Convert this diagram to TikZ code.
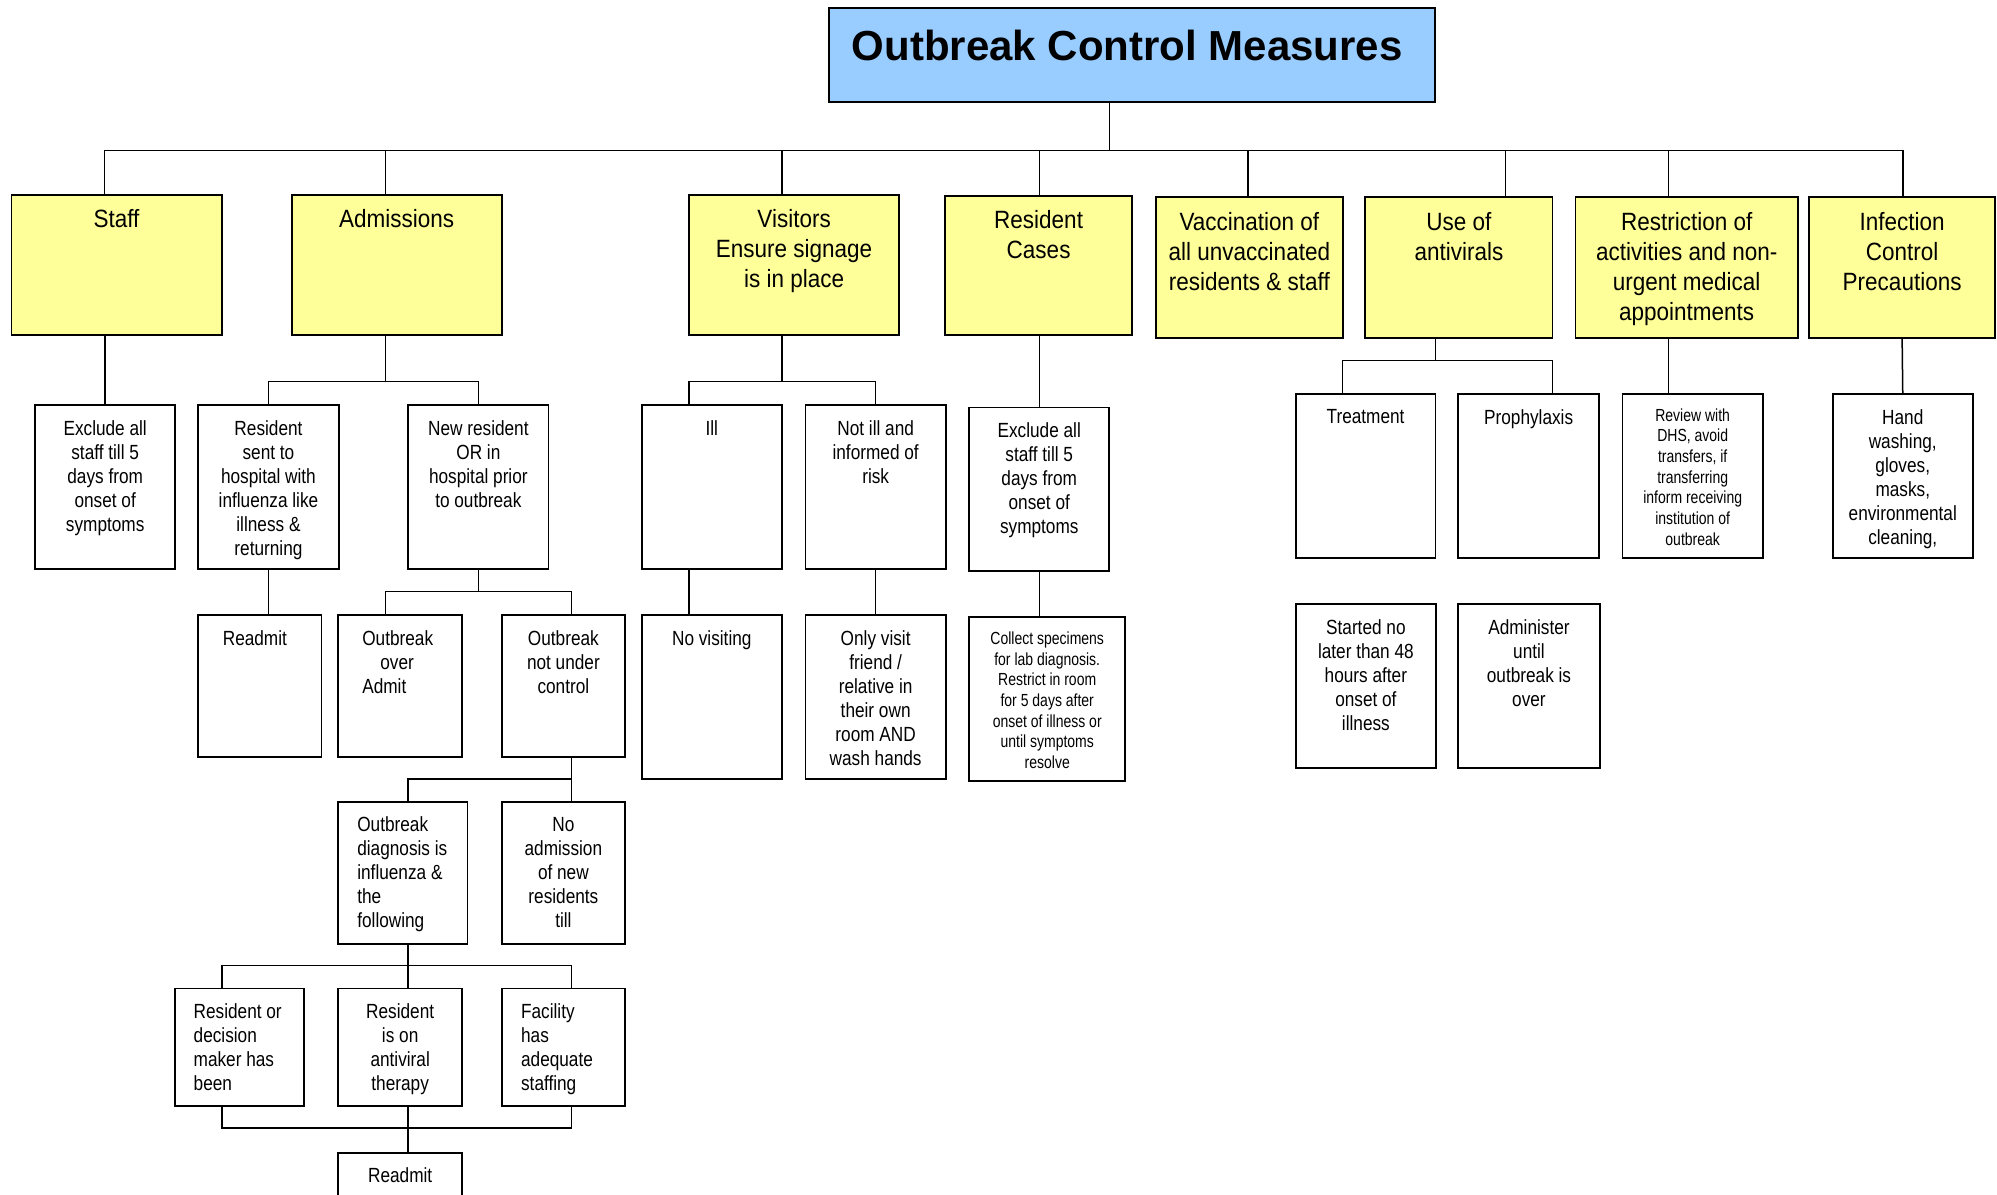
\documentclass[tikz,border=0pt]{standalone}
\usepackage{fontspec}
\setmainfont{Liberation Sans}
\newfontfamily\hdf{Liberation Sans}[FakeStretch=0.9]
\newfontfamily\bdf{Liberation Sans}[FakeStretch=0.84]
\newfontfamily\smf{Liberation Sans}[FakeStretch=0.8]
\usetikzlibrary{fit}
\definecolor{ttl}{HTML}{99CCFF}
\definecolor{yel}{HTML}{FFFF99}
\begin{document}
\begin{tikzpicture}[x=1.2736pt, y=-1.2736pt,
  bx/.style={draw=black, line width=1.8pt, inner sep=0pt, fill=white},
  tb/.style={bx, fill=yel},
  conn/.style={draw=black, line width=1.5pt},
  ttxt/.style={font=\bfseries\fontsize{42}{48}\selectfont, inner sep=0pt, anchor=north},
  hd/.style={font=\hdf\fontsize{25}{30}\selectfont, align=center, inner sep=0pt, anchor=north},
  bd/.style={font=\bdf\fontsize{20.5}{24}\selectfont, align=center, inner sep=0pt, anchor=north},
  bdl/.style={font=\bdf\fontsize{20.5}{24}\selectfont, align=left, inner sep=0pt, anchor=north west},
  sm/.style={font=\smf\fontsize{17.5}{20.7}\selectfont, align=center, inner sep=0pt, anchor=north}]
\useasboundingbox (0,0) rectangle (1568,938);
\clip (0,0) rectangle (1568,938);
\fill[white] (0,0) rectangle (1568,938);

% title
\node[bx, fill=ttl, fit={(651,6) (1127,80)}] (title) {};
\node[ttxt] (title-t) at ([xshift=-5pt,yshift=-23pt]title.north) {Outbreak Control Measures};

% top level
\node[tb, fit={(9,153.3) (174,263)}] (staff) {};
\node[tb, fit={(229,153.3) (394,263)}] (adm) {};
\node[tb, fit={(541,153.3) (706,263)}] (vis) {};
\node[tb, fit={(742,154) (889,263)}] (rc) {};
\node[tb, fit={(907.5,154.7) (1054.5,265.3)}] (vac) {};
\node[tb, fit={(1072,154.7) (1219,265.3)}] (av) {};
\node[tb, fit={(1237,154.7) (1411.7,265.3)}] (res) {};
\node[tb, fit={(1420.5,154.7) (1566.5,265.3)}] (ic) {};
\node[hd] (staff-t) at ([yshift=-15pt]staff.north) {Staff};
\node[hd] (adm-t) at ([yshift=-15pt]adm.north) {Admissions};
\node[hd] (vis-t) at ([yshift=-15pt]vis.north) {Visitors\\Ensure signage\\is in place};
\node[hd] (rc-t) at ([yshift=-15pt]rc.north) {Resident\\Cases};
\node[hd] (vac-t) at ([yshift=-16pt]vac.north) {Vaccination of\\all unvaccinated\\residents \& staff};
\node[hd] (av-t) at ([yshift=-16pt]av.north) {Use of\\antivirals};
\node[hd] (res-t) at ([yshift=-16pt]res.north) {Restriction of\\activities and non-\\urgent medical\\appointments};
\node[hd] (ic-t) at ([yshift=-16pt]ic.north) {Infection\\Control\\Precautions};

% level 2
\node[bx, fit={(27.5,318) (137.7,446.8)}] (ex1) {};
\node[bx, fit={(155.7,318) (265.9,446.8)}] (rsent) {};
\node[bx, fit={(320.5,318) (430.7,446.8)}] (newres) {};
\node[bx, fit={(503.8,318) (614,446.8)}] (ill) {};
\node[bx, fit={(632.5,318) (742.6,446.8)}] (notill) {};
\node[bx, fit={(761,320) (871,448.6)}] (ex2) {};
\node[bx, fit={(1017.3,309.5) (1127.1,438)}] (treat) {};
\node[bx, fit={(1145,309.5) (1255.5,438)}] (proph) {};
\node[bx, fit={(1273.9,309.5) (1384.2,438)}] (review) {};
\node[bx, fit={(1439,309.5) (1549,438)}] (hand) {};
\node[bd] (ex1-t) at ([yshift=-16pt]ex1.north) {Exclude all\\staff till 5\\days from\\onset of\\symptoms};
\node[bd] (rsent-t) at ([yshift=-16pt]rsent.north) {Resident\\sent to\\hospital with\\influenza like\\illness \&\\returning};
\node[bd] (newres-t) at ([yshift=-16pt]newres.north) {New resident\\OR in\\hospital prior\\to outbreak};
\node[bd] (ill-t) at ([yshift=-16pt]ill.north) {Ill};
\node[bd] (notill-t) at ([yshift=-16pt]notill.north) {Not ill and\\informed of\\risk};
\node[bd] (ex2-t) at ([yshift=-16pt]ex2.north) {Exclude all\\staff till 5\\days from\\onset of\\symptoms};
\node[bd] (treat-t) at ([yshift=-16pt]treat.north) {Treatment};
\node[bd] (proph-t) at ([yshift=-16pt]proph.north) {Prophylaxis};
\node[sm] (review-t) at ([yshift=-15pt]review.north) {Review with\\DHS, avoid\\transfers, if\\transferring\\inform receiving\\institution of\\outbreak};
\node[bd] (hand-t) at ([yshift=-16pt]hand.north) {Hand\\washing,\\gloves,\\masks,\\environmental\\cleaning,};

% level 3
\node[bx, fit={(155.7,483.1) (252.4,594.3)}] (readmit1) {};
\node[bx, fit={(265.4,483.1) (363,594.3)}] (obover) {};
\node[bx, fit={(394,483.1) (490.7,594.3)}] (obnot) {};
\node[bx, fit={(503.8,483) (614,611.5)}] (novis) {};
\node[bx, fit={(632.5,483) (742.6,611.5)}] (onlyvis) {};
\node[bx, fit={(761,484.7) (883.5,613.4)}] (collect) {};
\node[bx, fit={(1017.3,474.5) (1127.6,603.2)}] (started) {};
\node[bx, fit={(1145,474.5) (1256,603.2)}] (admin) {};
\node[bd] (readmit1-t) at ([xshift=-5pt,yshift=-16pt]readmit1.north) {Readmit};
\node[bdl] (obover-t) at ([xshift=25pt,yshift=-16pt]obover.north west) {Outbreak\\\hspace*{18pt}over\\Admit};
\node[bd] (obnot-t) at ([yshift=-16pt]obnot.north) {Outbreak\\not under\\control};
\node[bd] (novis-t) at ([yshift=-16pt]novis.north) {No visiting};
\node[bd] (onlyvis-t) at ([yshift=-16pt]onlyvis.north) {Only visit\\friend /\\relative in\\their own\\room AND\\wash hands};
\node[sm] (collect-t) at ([yshift=-15pt]collect.north) {Collect specimens\\for lab diagnosis.\\Restrict in room\\for 5 days after\\onset of illness or\\until symptoms\\resolve};
\node[bd] (started-t) at ([yshift=-16pt]started.north) {Started no\\later than 48\\hours after\\onset of\\illness};
\node[bd] (admin-t) at ([yshift=-16pt]admin.north) {Administer\\until\\outbreak is\\over};

% level 4
\node[bx, fit={(265.4,629.4) (367,741.1)}] (diag) {};
\node[bx, fit={(394,629.4) (490.7,741.1)}] (noadm) {};
\node[bdl] (diag-t) at ([xshift=20pt,yshift=-16pt]diag.north west) {Outbreak\\diagnosis is\\influenza \&\\the\\following};
\node[bd] (noadm-t) at ([yshift=-16pt]noadm.north) {No\\admission\\of new\\residents\\till};

% level 5
\node[bx, fit={(137.7,776.2) (238.4,868.3)}] (decis) {};
\node[bx, fit={(265.4,776.2) (363,868.3)}] (onav) {};
\node[bx, fit={(394,776.2) (490.7,868.3)}] (facil) {};
\node[bdl] (decis-t) at ([xshift=19pt,yshift=-16pt]decis.north west) {Resident or\\decision\\maker has\\been};
\node[bd] (onav-t) at ([yshift=-16pt]onav.north) {Resident\\is on\\antiviral\\therapy};
\node[bdl] (facil-t) at ([xshift=20pt,yshift=-16pt]facil.north west) {Facility\\has\\adequate\\staffing};

% level 6
\node[bx, fit={(265.4,905) (363,960)}] (readmit2) {};
\node[bd] (readmit2-t) at ([yshift=-16pt]readmit2.north) {Readmit};

% ---- connectors ----
\coordinate (bus0L) at (82,118);
\coordinate (bus0R) at (1494,118);
\coordinate (tdrop) at (871,118);
\draw[conn] (tdrop |- title.south) -- (tdrop);
\draw[conn] (bus0L) -- (bus0R);
\foreach \n/\x in {staff/82, adm/302.5, vis/614, rc/816, vac/980, av/1182, res/1310, ic/1494}{
  \coordinate (t-\n) at (\x,118);
  \draw[conn] (t-\n) -- (t-\n |- \n.north);
}

% staff
\draw[conn] (staff.south -| ex1.north) -- (ex1.north);

% admissions
\coordinate (b-adm) at (302.5,299.6);
\draw[conn] (b-adm |- adm.south) -- (b-adm);
\draw[conn] (rsent.north) |- (b-adm);
\draw[conn] (newres.north) |- (b-adm);
\draw[conn] (rsent.south) -- (rsent.south |- readmit1.north);
\coordinate (b-newL) at (302.5,464.6);
\coordinate (b-newR) at (448.7,464.6);
\draw[conn] (newres.south) -- (newres.south |- b-newL);
\draw[conn] (b-newL |- obover.north) -- (b-newL) -- (b-newR) -- (b-newR |- obnot.north);
\coordinate (b-obL) at (320.5,611.5);
\coordinate (b-obR) at (448.7,611.5);
\draw[conn] (b-obR |- obnot.south) -- (b-obR |- noadm.north);
\draw[conn] (b-obR) -- (b-obL) -- (b-obL |- diag.north);
\coordinate (b-dL) at (174.3,758);
\coordinate (b-dM) at (320.5,758);
\coordinate (b-dR) at (448.7,758);
\draw[conn] (b-dM |- diag.south) -- (b-dM |- onav.north);
\draw[conn] (b-dL |- decis.north) -- (b-dL) -- (b-dR) -- (b-dR |- facil.north);
\coordinate (b-eL) at (174.3,885.8);
\coordinate (b-eM) at (320.5,885.8);
\coordinate (b-eR) at (448.7,885.8);
\draw[conn] (b-eL |- decis.south) -- (b-eL) -- (b-eR) -- (b-eR |- facil.south);
\draw[conn] (b-eM |- onav.south) -- (b-eM |- readmit2.north);

% visitors
\coordinate (b-visL) at (541,299.6);
\coordinate (b-visM) at (614,299.6);
\coordinate (b-visR) at (687.5,299.6);
\draw[conn] (b-visM |- vis.south) -- (b-visM);
\draw[conn] (b-visL |- ill.north) -- (b-visL) -- (b-visR) -- (b-visR |- notill.north);
\draw[conn] (b-visL |- ill.south) -- (b-visL |- novis.north);
\draw[conn] (b-visR |- notill.south) -- (b-visR |- onlyvis.north);

% resident cases
\draw[conn] (rc.south -| ex2.north) -- (ex2.north);
\draw[conn] (ex2.south) -- (ex2.south |- collect.north);

% antivirals
\coordinate (b-avL) at (1054,283);
\coordinate (b-avM) at (1127,283);
\coordinate (b-avR) at (1219,283);
\draw[conn] (b-avM |- av.south) -- (b-avM);
\draw[conn] (b-avL |- treat.north) -- (b-avL) -- (b-avR) -- (b-avR |- proph.north);

% restriction
\coordinate (x-res) at (1310,290);
\draw[conn] (x-res |- res.south) -- (x-res |- review.north);

% infection control
\draw[conn] (ic.south) -- (hand.north);
\end{tikzpicture}
\end{document}
